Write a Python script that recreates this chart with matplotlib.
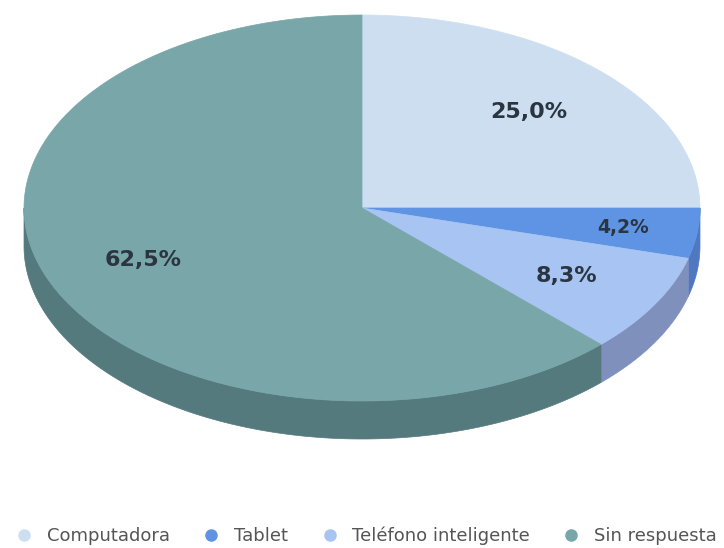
import numpy as np
import matplotlib.pyplot as plt
from matplotlib.patches import Polygon
from matplotlib.lines import Line2D

labels = ['Computadora', 'Tablet', 'Teléfono inteligente', 'Sin respuesta']
values = [25.0, 4.2, 8.3, 62.5]
pct_text = ['25,0%', '4,2%', '8,3%', '62,5%']

top_colors = ['#cddef1', '#5f94e4', '#a8c4f2', '#78a6a9']
side_colors = ['#9fb0c8', '#4f78c0', '#7f90bd', '#547a7e']

# ellipse geometry in pixel space (y up)
cx, cy = 362, 340
rx, ry = 338, 193
depth = 38

fig = plt.figure(figsize=(7.24, 5.48), dpi=100)
ax = fig.add_axes([0, 0, 1, 1])
ax.set_xlim(0, 724)
ax.set_ylim(0, 548)
ax.axis('off')

def arc(t1, t2, yoff=0, n=200):
    t = np.radians(np.linspace(t1, t2, n))
    return np.column_stack([cx + rx*np.cos(t), cy - yoff + ry*np.sin(t)])

# start at 90 deg, clockwise
total = sum(values)
angles = []
start = 90.0
for v in values:
    end = start - 360.0*v/total
    angles.append((end, start))
    start = end

# side walls (only the front half is visible)
for (a, b), c in zip(angles, side_colors):
    lo = max(a, -180)
    hi = min(b, 0)
    if lo >= hi:
        continue
    pts = np.vstack([arc(lo, hi), arc(hi, lo, depth)])
    ax.add_patch(Polygon(pts, closed=True, facecolor=c, edgecolor=c, lw=0.5, zorder=1))

# top face
for (a, b), c in zip(angles, top_colors):
    pts = np.vstack([[cx, cy], arc(a, b)])
    ax.add_patch(Polygon(pts, closed=True, facecolor=c, edgecolor=c, lw=0.5, zorder=2))

# percent labels
for i, ((a, b), txt) in enumerate(zip(angles, pct_text)):
    mid = np.radians((a + b)/2)
    r = 0.78 if values[i] < 5 else 0.70
    size = 13.5 if values[i] < 5 else 16
    ax.text(cx + r*rx*np.cos(mid), cy + r*ry*np.sin(mid), txt,
            ha='center', va='center', fontsize=size, fontweight='bold',
            color='#2a3540', zorder=3)

handles = [Line2D([], [], marker='o', ls='', markersize=8, markerfacecolor=c,
                  markeredgecolor=c) for c in top_colors]
ax.legend(handles, labels, loc='center', bbox_to_anchor=(366/724, 12/548),
          bbox_transform=ax.transAxes, ncol=4, frameon=False, fontsize=13,
          labelcolor='#555555', handletextpad=0.75, columnspacing=1.8,
          handlelength=1.0, borderpad=0, borderaxespad=0)

fig.savefig('out.png', dpi=100)
